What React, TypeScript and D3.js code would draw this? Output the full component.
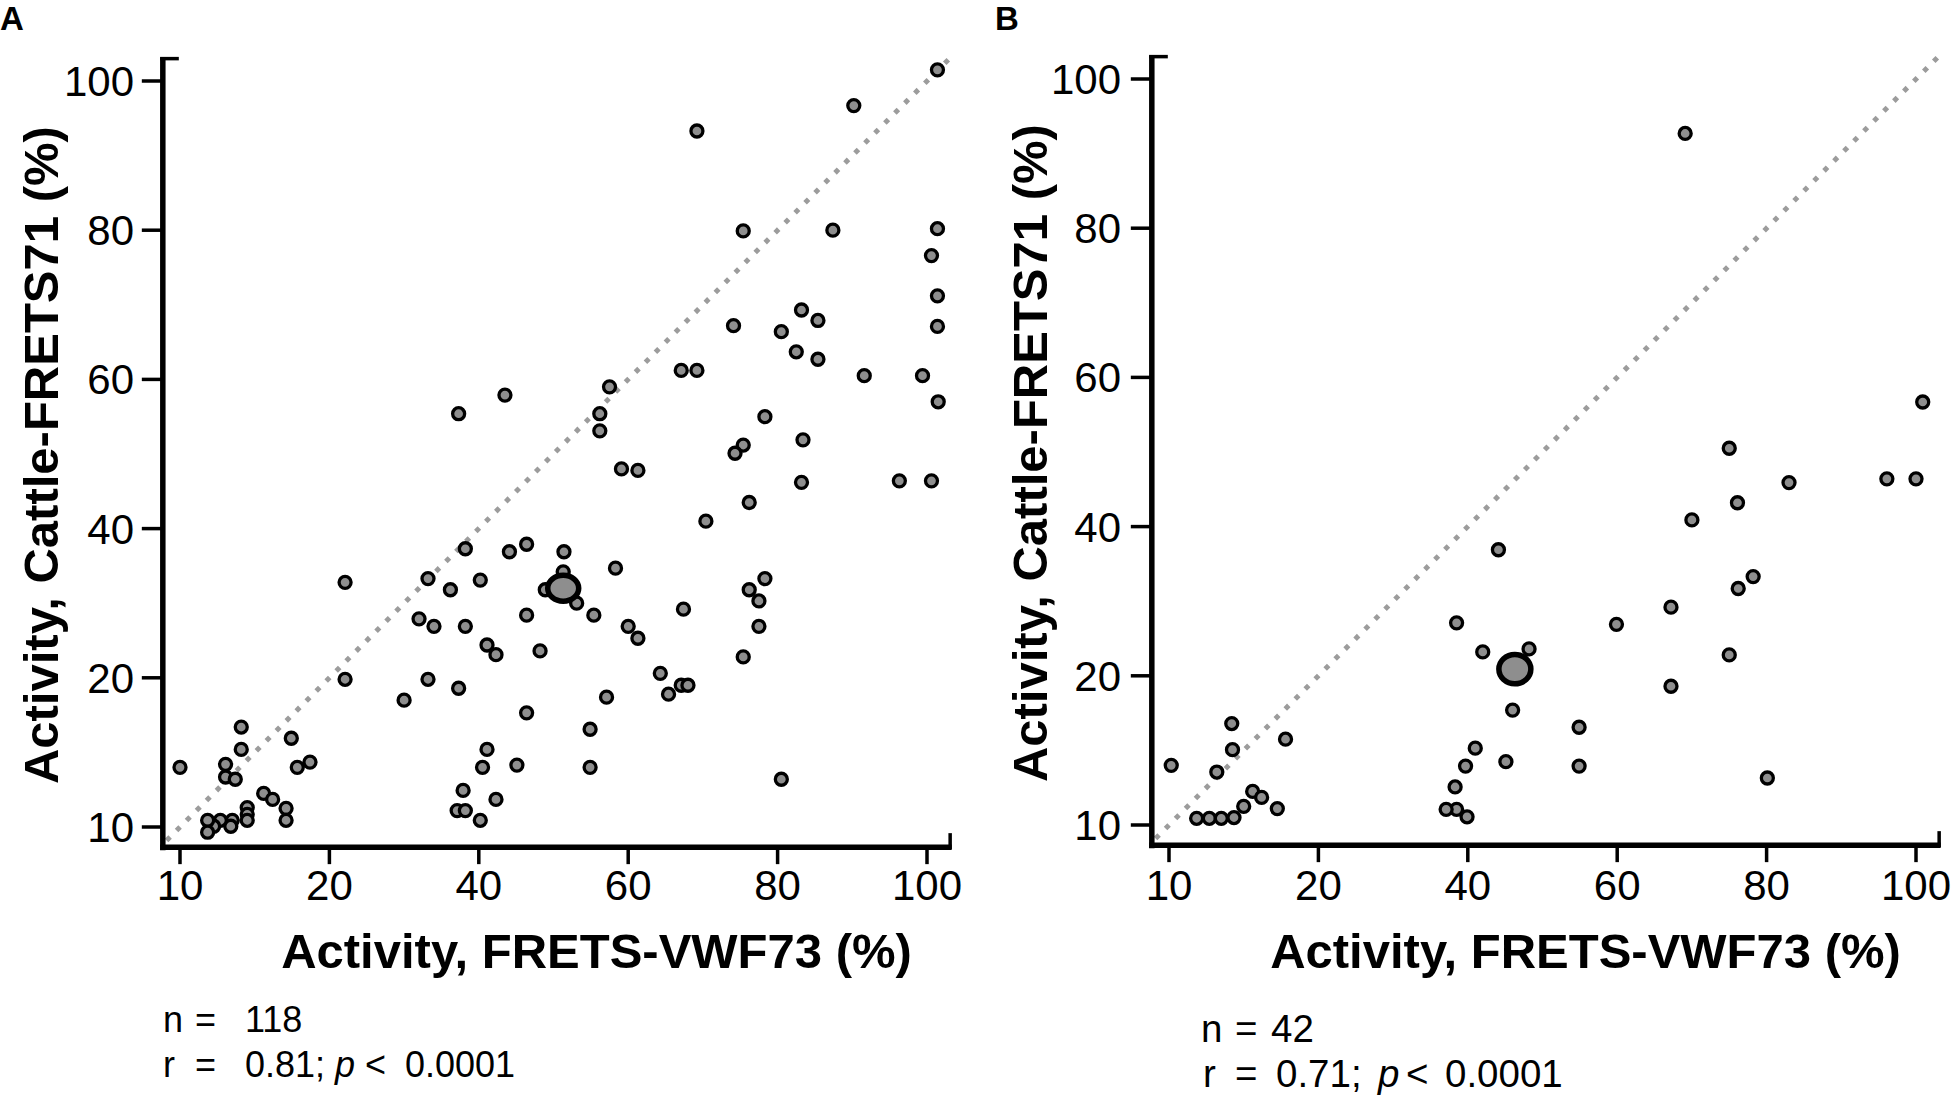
import React from "react";
import * as d3 from "d3";

// ---------- data ----------
const tickValues = [0, 20, 40, 60, 80, 100];
const tickLabels = ["10", "20", "40", "60", "80", "100"];

const pointsA: [number, number][] = [
  [101.4, 101.5], [90.2, 96.7], [69.2, 93.3], [75.4, 79.9], [87.4, 80.0], [101.4, 80.2],
  [100.6, 76.6], [101.4, 71.2], [83.2, 69.3], [85.4, 67.9], [74.1, 67.2], [80.5, 66.4],
  [101.4, 67.1], [82.5, 63.7], [85.4, 62.7], [67.1, 61.2], [69.2, 61.2], [91.6, 60.5],
  [99.4, 60.5], [101.5, 57.0], [43.5, 57.9], [37.3, 55.4], [57.5, 59.0], [56.2, 55.4],
  [56.2, 53.1], [78.3, 55.0], [83.4, 51.9], [75.4, 51.2], [74.3, 50.1],
  [59.1, 48.0], [61.3, 47.8], [83.2, 46.2], [96.3, 46.4], [100.6, 46.4], [76.2, 43.5],
  [70.4, 41.0], [38.2, 37.3], [44.1, 36.9], [46.4, 37.9], [51.4, 36.9], [58.3, 34.7],
  [40.2, 33.1], [51.3, 34.2], [48.9, 31.8], [53.1, 30.0], [78.3, 33.3], [76.2, 31.8],
  [77.5, 30.3], [67.4, 29.2], [46.4, 28.4], [55.4, 28.4], [38.2, 26.9], [60.0, 26.9],
  [61.3, 25.3], [77.5, 26.9], [41.1, 24.4], [42.3, 23.1], [48.2, 23.6], [75.4, 22.8],
  [64.3, 20.6], [67.1, 19.0], [68.0, 19.0], [65.4, 17.8], [37.3, 18.6], [57.1, 17.4],
  [46.4, 15.3], [54.9, 13.1], [41.1, 10.4], [40.5, 8.0], [45.1, 8.3], [54.9, 8.0],
  [80.5, 6.4], [37.9, 4.9], [42.3, 3.7], [37.1, 2.2], [38.2, 2.2], [40.2, 0.9],
  [22.1, 32.8], [33.2, 33.3], [36.2, 31.8], [32.0, 27.9], [34.0, 26.9], [22.1, 19.8],
  [33.2, 19.8], [30.0, 17.0], [8.2, 13.4], [14.9, 11.9], [8.2, 10.4], [0.0, 8.0],
  [6.1, 8.4], [6.1, 6.7], [7.4, 6.4], [15.7, 8.0], [17.4, 8.7], [11.2, 4.5],
  [12.4, 3.7], [14.2, 2.5], [14.2, 0.9], [9.0, 2.6], [9.0, 1.7], [9.0, 0.9],
  [7.0, 0.9], [6.8, 0.1], [5.4, 0.9], [4.5, 0.1], [3.7, 0.9], [3.7, -0.7],
];

const pointsB: [number, number][] = [
  [69.1, 92.7], [100.9, 56.7], [75.0, 50.5], [83.0, 45.9], [96.1, 46.4], [100.0, 46.4],
  [76.1, 43.2], [70.0, 40.9], [44.1, 36.9], [78.2, 33.3], [76.2, 31.7], [67.2, 29.2],
  [38.5, 27.1], [59.9, 26.9], [48.2, 23.6], [42.0, 23.2], [75.0, 22.8], [67.2, 18.6],
  [46.0, 15.4], [54.9, 13.1], [41.0, 10.3], [39.7, 7.9], [45.1, 8.5], [54.9, 7.9],
  [80.1, 6.3], [38.3, 5.1], [38.5, 2.1], [39.9, 1.1], [37.1, 2.1],
  [0.3, 8.0], [8.4, 13.6], [8.5, 10.1], [6.4, 7.1], [15.6, 11.5], [3.7, 0.9],
  [5.4, 0.9], [7.0, 0.9], [8.7, 1.0], [10.0, 2.5], [11.2, 4.5], [12.4, 3.7], [14.5, 2.2],
];

const highlightA: [number, number] = [51.3, 32.0];
const highlightB: [number, number] = [46.3, 20.9];

// stats lines, split in pieces: [text, italic]
const statsA1: [string, boolean][] = [["n", false], ["=", false], ["118", false]];
const statsA2: [string, boolean][] = [["r", false], ["=", false], ["0.81;", false], ["p", true], ["<", false], ["0.0001", false]];
const statsB1: [string, boolean][] = [["n", false], ["=", false], ["42", false]];
const statsB2: [string, boolean][] = [["r", false], ["=", false], ["0.71;", false], ["p", true], ["<", false], ["0.0001", false]];

const xTitle = "Activity, FRETS-VWF73 (%)";
const yTitle = "Activity, Cattle-FRETS71 (%)";

const FONT = "'Liberation Sans', Arial, Helvetica, sans-serif";
const DOT_FILL = "#8e8e8e";

type PanelProps = {
  label: string;
  labelX: number;
  xRange: [number, number];
  yRange: [number, number];
  points: [number, number][];
  highlight: [number, number];
  hlR: [number, number];
  stats1: [string, boolean][];
  stats2: [string, boolean][];
  stats1X: number[];
  stats2X: number[];
  statsY: [number, number];
  statsSize: number;
  yTitleX: number;
  yLabelRight: number;
};

function Panel(p: PanelProps) {
  const x = d3.scaleLinear().domain([0, 100]).range(p.xRange);
  const y = d3.scaleLinear().domain([0, 100]).range(p.yRange);
  const axisY = y(-2.7);
  const axisX = x(-2.3);
  const xEnd = x(103.3);
  const yTop = y(103.2);
  const diag = d3.line<number>().x((d) => x(d)).y((d) => y(d));
  const titleCx = (x(0) + x(100)) / 2 + 43;
  const yMid = (yTop + axisY) / 2 + 3;
  return (
    <g fontFamily={FONT}>
      <text x={p.labelX} y={30} fontSize={33} fontWeight="bold">{p.label}</text>
      {/* diagonal identity line */}
      <path d={diag([-1.8, 103]) || ""} stroke="#9c9c9c" strokeWidth={5} strokeDasharray="5 9.1" fill="none" />
      {/* y axis */}
      <line x1={axisX} x2={axisX} y1={axisY + 3} y2={yTop} stroke="#000" strokeWidth={5.5} />
      <line x1={axisX - 2.7} x2={axisX + 16} y1={yTop + 1.5} y2={yTop + 1.5} stroke="#000" strokeWidth={3.5} />
      {tickValues.map((v, i) => (
        <g key={"yt" + i}>
          <line x1={axisX - 21} x2={axisX} y1={y(v)} y2={y(v)} stroke="#000" strokeWidth={3.5} />
          <text x={p.yLabelRight} y={y(v) + 15} fontSize={42} textAnchor="end">{tickLabels[i]}</text>
        </g>
      ))}
      {/* x axis */}
      <line x1={axisX - 2.7} x2={xEnd} y1={axisY} y2={axisY} stroke="#000" strokeWidth={5.5} />
      <line x1={xEnd - 1.5} x2={xEnd - 1.5} y1={axisY + 2} y2={axisY - 14} stroke="#000" strokeWidth={3.5} />
      {tickValues.map((v, i) => (
        <g key={"xt" + i}>
          <line x1={x(v)} x2={x(v)} y1={axisY} y2={axisY + 17} stroke="#000" strokeWidth={3.5} />
          <text x={x(v)} y={900} fontSize={42} textAnchor="middle">{tickLabels[i]}</text>
        </g>
      ))}
      {/* titles */}
      <text x={titleCx} y={968} fontSize={49} fontWeight="bold" textAnchor="middle">{xTitle}</text>
      <text transform={`translate(${p.yTitleX},${yMid}) rotate(-90)`} fontSize={49} fontWeight="bold" textAnchor="middle">{yTitle}</text>
      {/* points */}
      {p.points.map((d, i) => (
        <circle key={"pt" + i} cx={x(d[0])} cy={y(d[1])} r={6} fill={DOT_FILL} stroke="#000" strokeWidth={3.3} />
      ))}
      <ellipse cx={x(p.highlight[0])} cy={y(p.highlight[1])} rx={p.hlR[0]} ry={p.hlR[1]} fill={DOT_FILL} stroke="#000" strokeWidth={5.5} />
      {/* stats */}
      <text y={p.statsY[0]} fontSize={p.statsSize}>
        {p.stats1.map((s, i) => (
          <tspan key={"s1" + i} x={p.stats1X[i]} fontStyle={s[1] ? "italic" : "normal"}>{s[0]}</tspan>
        ))}
      </text>
      <text y={p.statsY[1]} fontSize={p.statsSize}>
        {p.stats2.map((s, i) => (
          <tspan key={"s2" + i} x={p.stats2X[i]} fontStyle={s[1] ? "italic" : "normal"}>{s[0]}</tspan>
        ))}
      </text>
    </g>
  );
}

export default function App() {
  return (
    <svg width={1951} height={1098} style={{ position: "absolute", left: 0, top: 0, background: "#fff" }}>
      <rect width={1951} height={1098} fill="#fff" />
      <Panel
        label="A"
        labelX={0}
        xRange={[180, 927]}
        yRange={[827, 81]}
        points={pointsA}
        highlight={highlightA}
        hlR={[15.5, 13]}
        stats1={statsA1}
        stats2={statsA2}
        stats1X={[163, 195, 245]}
        stats2X={[163, 195, 245, 335, 365, 405]}
        statsY={[1032, 1077]}
        statsSize={36}
        yTitleX={58}
        yLabelRight={134}
      />
      <Panel
        label="B"
        labelX={995}
        xRange={[1169, 1916]}
        yRange={[825, 79]}
        points={pointsB}
        highlight={highlightB}
        hlR={[16, 14.7]}
        stats1={statsB1}
        stats2={statsB2}
        stats1X={[1201, 1235, 1271]}
        stats2X={[1203, 1235, 1276, 1378, 1406, 1445]}
        statsY={[1042, 1087]}
        statsSize={38.5}
        yTitleX={1047}
        yLabelRight={1121}
      />
    </svg>
  );
}
